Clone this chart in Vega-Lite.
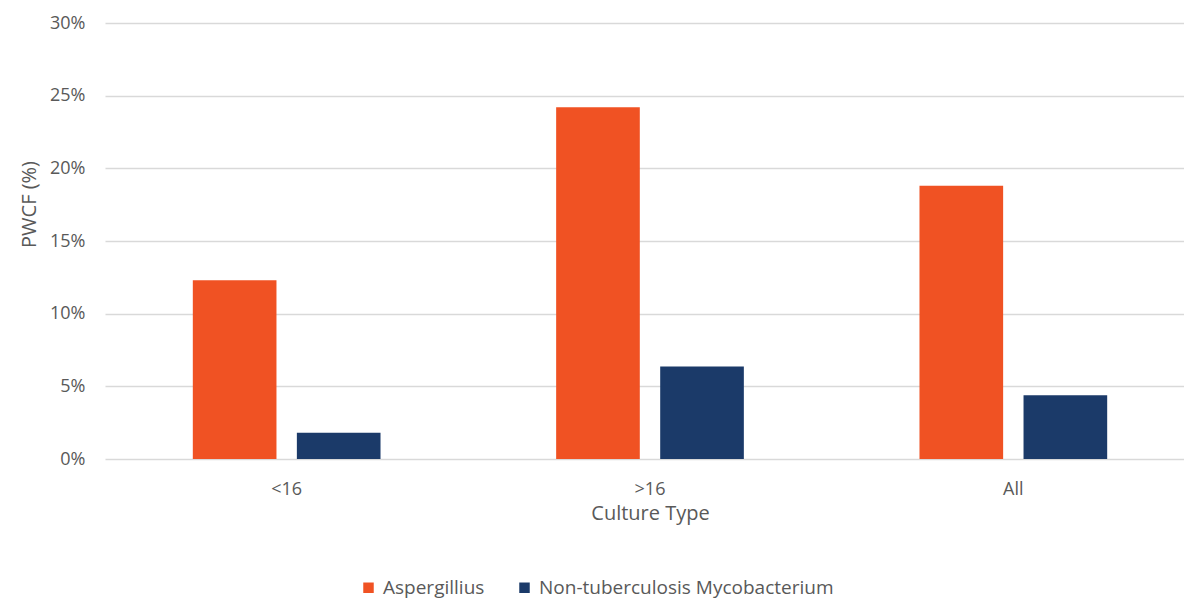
{
  "$schema": "https://vega.github.io/schema/vega-lite/v6.json",
  "width": 1079,
  "height": 436,
  "autosize": {"type": "none"},
  "padding": {"left": 105, "top": 23, "right": 0, "bottom": 142},
  "background": "white",
  "data": {
    "values": [
      {"culture": "<16", "organism": "Aspergillius", "pwcf": 0.123},
      {"culture": "<16", "organism": "Non-tuberculosis Mycobacterium", "pwcf": 0.018},
      {"culture": ">16", "organism": "Aspergillius", "pwcf": 0.242},
      {"culture": ">16", "organism": "Non-tuberculosis Mycobacterium", "pwcf": 0.0636},
      {"culture": "All", "organism": "Aspergillius", "pwcf": 0.188},
      {"culture": "All", "organism": "Non-tuberculosis Mycobacterium", "pwcf": 0.0438}
    ]
  },
  "config": {
    "font": "Open Sans",
    "view": {"stroke": null},
    "axis": {
      "labelColor": "#595959",
      "titleColor": "#595959",
      "labelFont": "Open Sans",
      "titleFont": "Open Sans",
      "labelFontSize": 18,
      "titleFontSize": 20,
      "titleFontWeight": "normal",
      "domain": false,
      "ticks": false
    },
    "legend": {
      "labelColor": "#595959",
      "labelFont": "Open Sans",
      "labelFontSize": 19,
      "labelLimit": 0
    }
  },
  "mark": {"type": "bar"},
  "encoding": {
    "x": {
      "field": "culture",
      "type": "nominal",
      "sort": ["<16", ">16", "All"],
      "scale": {"paddingInner": 0, "paddingOuter": 0, "range": [0, 1090]},
      "axis": {
        "title": "Culture Type",
        "labelAngle": 0,
        "labelPadding": 21,
        "titlePadding": 5,
        "grid": false
      }
    },
    "xOffset": {
      "field": "organism",
      "type": "nominal",
      "sort": ["Aspergillius", "Non-tuberculosis Mycobacterium"],
      "scale": {"paddingInner": 0.196, "paddingOuter": 0.844}
    },
    "y": {
      "field": "pwcf",
      "type": "quantitative",
      "scale": {"domain": [0, 0.3], "nice": false},
      "axis": {
        "title": "PWCF (%)",
        "format": ".0%",
        "values": [0, 0.05, 0.1, 0.15, 0.2, 0.25, 0.3],
        "labelPadding": 20,
        "grid": true,
        "gridColor": "#D9D9D9",
        "gridWidth": 1.5,
        "titlePadding": 10,
        "titleY": 181
      }
    },
    "color": {
      "field": "organism",
      "type": "nominal",
      "sort": ["Aspergillius", "Non-tuberculosis Mycobacterium"],
      "scale": {
        "domain": ["Aspergillius", "Non-tuberculosis Mycobacterium"],
        "range": ["#F05223", "#1B3A69"]
      },
      "legend": {
        "title": null,
        "orient": "none",
        "direction": "horizontal",
        "legendX": 254,
        "legendY": 555,
        "symbolType": "square",
        "symbolSize": 110,
        "symbolStrokeWidth": 0,
        "labelOffset": 5,
        "columnPadding": 30
      }
    }
  }
}
